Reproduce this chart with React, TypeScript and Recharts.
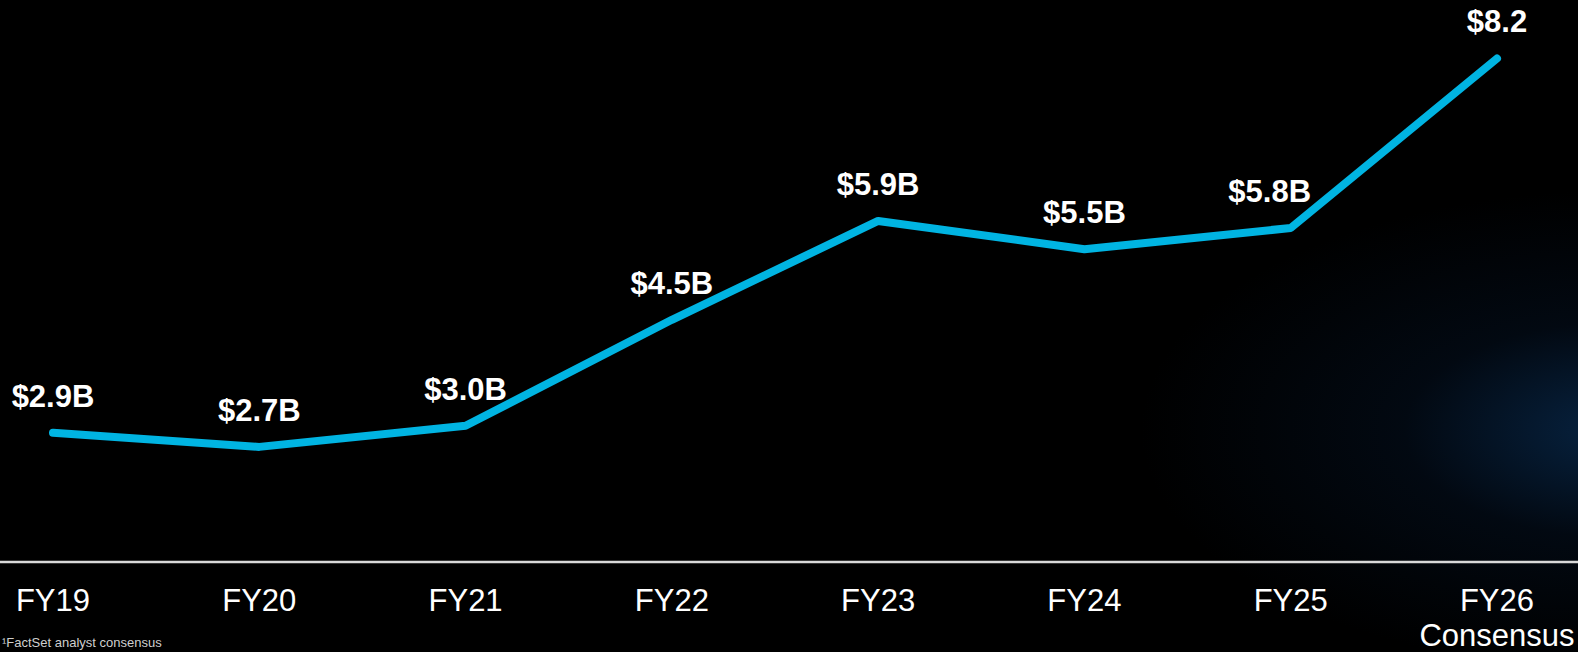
import { LineChart, Line, XAxis, YAxis, LabelList } from "recharts";

const years = ["FY19", "FY20", "FY21", "FY22", "FY23", "FY24", "FY25", "FY26"];
const subLabels = ["", "", "", "", "", "", "", "Consensus"];
const revenue = [2.9, 2.7, 3.0, 4.5, 5.9, 5.5, 5.8, 8.2];
const valueLabels = ["$2.9B", "$2.7B", "$3.0B", "$4.5B", "$5.9B", "$5.5B", "$5.8B", "$8.2"];

const data = years.map((y, i) => ({
  year: y,
  sub: subLabels[i],
  value: revenue[i],
  label: valueLabels[i],
}));

const FONT = '"Liberation Sans", Arial, sans-serif';

function YearTick(props: any) {
  const { x, y, payload, index } = props;
  const sub = subLabels[index ?? 0];
  return (
    <g>
      <text x={x} y={y} dy={49} textAnchor="middle" fill="#ffffff" fontSize={31} fontFamily={FONT}>
        {payload.value}
      </text>
      {sub ? (
        <text x={x} y={y} dy={84} textAnchor="middle" fill="#ffffff" fontSize={31} fontFamily={FONT}>
          {sub}
        </text>
      ) : null}
    </g>
  );
}

// the FY25 label sits a bit left of its point, off the rising segment
function ValueLabel(props: any) {
  const { x, y, value, index } = props;
  const dx = index === 6 ? -21 : 0;
  return (
    <text
      x={x + dx}
      y={y - 26}
      textAnchor="middle"
      fill="#ffffff"
      fontSize={31}
      fontWeight="bold"
      fontFamily={FONT}
    >
      {value}
    </text>
  );
}

export default function App() {
  return (
    <div
      style={{
        position: "fixed",
        left: 0,
        top: 0,
        width: 1578,
        height: 652,
        overflow: "hidden",
        background:
          "radial-gradient(ellipse 480px 240px at 1620px 430px, rgba(14,70,130,0.5) 0%, rgba(8,35,70,0.25) 45%, rgba(0,0,0,0) 100%), #000000",
      }}
    >
      <LineChart width={1578} height={652} data={data} margin={{ top: 2, right: 0, left: 0, bottom: 0 }}>
        <YAxis hide type="number" domain={[1.07, 9]} allowDataOverflow />
        <XAxis
          dataKey="year"
          height={90}
          padding={{ left: 53, right: 81 }}
          axisLine={{ stroke: "#d9d9d9", strokeWidth: 2.5 }}
          tickLine={false}
          tickSize={0}
          tickMargin={0}
          interval={0}
          tick={<YearTick />}
        />
        <Line
          type="linear"
          dataKey="value"
          stroke="#00B4E2"
          strokeWidth={8}
          strokeLinecap="round"
          strokeLinejoin="round"
          dot={false}
          activeDot={false}
          isAnimationActive={false}
        >
          <LabelList dataKey="label" content={<ValueLabel />} />
        </Line>
      </LineChart>
      <div
        style={{
          position: "absolute",
          left: 2,
          top: 636,
          fontFamily: FONT,
          fontSize: 13,
          lineHeight: "14px",
          color: "#cfcfcf",
          whiteSpace: "nowrap",
        }}
      >
        ¹FactSet analyst consensus
      </div>
    </div>
  );
}
